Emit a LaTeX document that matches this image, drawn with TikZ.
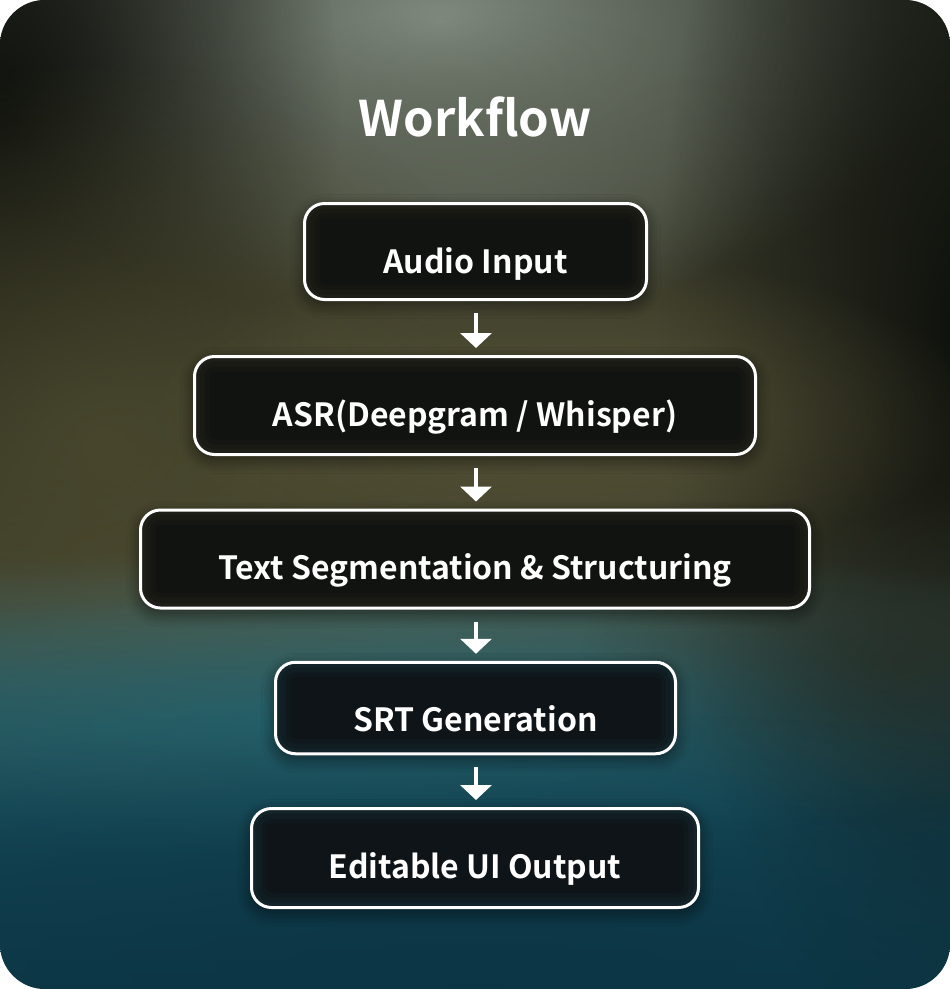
\documentclass[tikz,border=0pt]{standalone}
\usepackage{fontspec}
\setmainfont{Noto Sans CJK SC}[BoldFont={Noto Sans CJK SC Bold}]
\usetikzlibrary{arrows.meta,fadings,shadows.blur}
\tikzfading[name=softblob, inner color=transparent!0, outer color=transparent!100]
\definecolor{bgA}{HTML}{2B2F25}
\definecolor{bgB}{HTML}{3C3C2A}
\definecolor{bgC}{HTML}{46452F}
\definecolor{bgD}{HTML}{2A5660}
\definecolor{bgE}{HTML}{174A58}
\definecolor{bgF}{HTML}{0D3A48}
\definecolor{lightgreen}{HTML}{808A7E}
\definecolor{midgreen}{HTML}{5E6658}
\definecolor{darkcorner}{HTML}{0F110D}
\definecolor{olive}{HTML}{4E4C30}
\definecolor{olivelight}{HTML}{5E5A3B}
\definecolor{teallight}{HTML}{24646E}
\definecolor{tealgray}{HTML}{4C665C}
\definecolor{darkolive}{HTML}{262E26}
\definecolor{deepteal}{HTML}{0C3444}
\definecolor{boxtop}{HTML}{111310}
\definecolor{boxbot}{HTML}{0E1417}
\definecolor{glowolive}{HTML}{3A3A2A}
\definecolor{glowteal}{HTML}{1E4852}
\tikzset{
  stepbox/.style={draw=white, line width=3pt, rounded corners=20pt,
    inner xsep=0pt, inner ysep=0pt, text height=69.5pt, align=center,
    text=white, font=\bfseries\fontsize{32}{36}\selectfont,
    blur shadow={shadow xshift=0pt, shadow yshift=-5pt, shadow blur radius=14pt,
      shadow blur steps=12, shadow opacity=55}},
  innerglow/.style={path picture={
    \foreach \w/\o in {30/0.10,20/0.12,10/0.15}
      \draw[line width=\w pt, draw=#1, opacity=\o, rounded corners=20pt]
        (path picture bounding box.south west) rectangle (path picture bounding box.north east);}},
  flowarrow/.style={draw=white, line width=3.5pt,
    -{Triangle[width=31pt,length=15pt]}},
  blob/.style={fill=#1, path fading=softblob}
}
\begin{document}
\begin{tikzpicture}[x=1pt,y=-1pt]
\useasboundingbox (0,0) rectangle (950,989);
\fill[white] (0,0) rectangle (950,989);
\begin{scope}
\clip[rounded corners=45pt] (0,0) rectangle (950,989);
\shade[top color=bgA, bottom color=bgB] (0,0) rectangle (950,351);
\shade[top color=bgB, bottom color=bgC] (0,350) rectangle (950,561);
\shade[top color=bgC, bottom color=bgD] (0,560) rectangle (950,681);
\shade[top color=bgD, bottom color=bgE] (0,680) rectangle (950,801);
\shade[top color=bgE, bottom color=bgF] (0,800) rectangle (950,989);
\fill[blob=lightgreen] (440,20) ellipse (520 and 300);
\fill[blob=midgreen, opacity=0.8] (480,170) ellipse (300 and 160);
\fill[blob=darkcorner] (0,120) ellipse (340 and 520);
\fill[blob=darkcorner] (960,330) ellipse (300 and 760);
\fill[blob=olive, opacity=0.8] (100,440) ellipse (440 and 380);
\fill[blob=olivelight, opacity=0.7] (560,410) ellipse (420 and 160);
\fill[blob=tealgray, opacity=0.7] (400,635) ellipse (800 and 90);
\fill[blob=teallight, opacity=0.8] (300,725) ellipse (820 and 130);
\fill[blob=darkolive, opacity=0.8] (900,660) ellipse (320 and 170);
\fill[blob=deepteal, opacity=0.8] (475,970) ellipse (1200 and 260);
\end{scope}

\node[text=white, font=\bfseries\fontsize{49}{56}\selectfont, anchor=base]
  (title) at (475,136) {Workflow};

\node[stepbox, fill=boxtop, innerglow=glowolive, minimum width=342pt, text depth=26.5pt]
  (b1) at (475.5,251.5) {Audio Input};
\node[stepbox, fill=boxtop, innerglow=glowolive, minimum width=561pt, text depth=28.5pt]
  (b2) at (475,405.5) {ASR(Deepgram / Whisper)};
\node[stepbox, fill=boxtop, innerglow=glowolive, minimum width=669pt, text depth=28.5pt]
  (b3) at (475,559) {Text Segmentation \& Structuring};
\node[stepbox, fill=boxbot, innerglow=glowteal, minimum width=400pt, text depth=22pt]
  (b4) at (475.5,708) {SRT Generation};
\node[stepbox, fill=boxbot, innerglow=glowteal, minimum width=447pt, text depth=29.5pt]
  (b5) at (475,858) {Editable UI Output};

\draw[flowarrow] ([xshift=0.5pt,yshift=-12pt]b1.south) -- ([xshift=1pt,yshift=7pt]b2.north);
\draw[flowarrow] ([xshift=1pt,yshift=-12pt]b2.south) -- ([xshift=1pt,yshift=7pt]b3.north);
\draw[flowarrow] ([xshift=1pt,yshift=-12pt]b3.south) -- ([xshift=0.5pt,yshift=7pt]b4.north);
\draw[flowarrow] ([xshift=0.5pt,yshift=-12pt]b4.south) -- ([xshift=1pt,yshift=7pt]b5.north);
\end{tikzpicture}
\end{document}
